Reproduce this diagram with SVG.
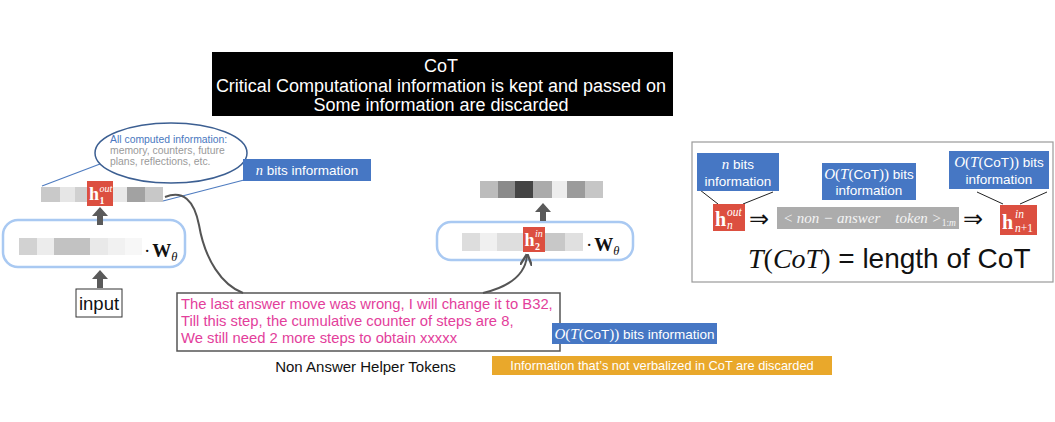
<svg xmlns="http://www.w3.org/2000/svg" width="1055" height="422" viewBox="0 0 1055 422">
<defs>
<style>
.sans{font-family:"Liberation Sans",Arial,sans-serif}
.serif{font-family:"Liberation Serif","Times New Roman",serif}
.blue{fill:#4677c4}
.red{fill:#dc4f40}
.wt{fill:#ffffff}
.hb{font-family:"Liberation Serif",serif;font-weight:bold;fill:#fff}
.hs{font-family:"Liberation Serif",serif;font-style:italic;fill:#fff}
.rbox{fill:none;stroke:#a9c9f2;stroke-width:2.5}
.garrow{fill:#5a5a5a}
.conn{fill:none;stroke:#555;stroke-width:2}
.dbl{font-family:"DejaVu Sans",sans-serif;font-size:24px;fill:#111}
</style>
<marker id="ah" viewBox="0 0 10 10" refX="8" refY="5" markerWidth="6" markerHeight="6" orient="auto">
<path d="M0,0 L10,5 L0,10" fill="none" stroke="#555" stroke-width="2"/>
</marker>
</defs>
<rect width="1055" height="422" fill="#ffffff"/>

<g id="title">
<rect x="212" y="52" width="461" height="64" fill="#000"/>
<text class="sans" x="441" y="71.5" font-size="18" fill="#fff" text-anchor="middle">CoT</text>
<text class="sans" x="441" y="91.5" font-size="18" fill="#fff" text-anchor="middle">Critical Computational information is kept and passed on</text>
<text class="sans" x="441" y="111" font-size="18" fill="#fff" text-anchor="middle">Some information are discarded</text>
</g>

<g id="ellipse-callout">
<line x1="42" y1="186" x2="100" y2="164" stroke="#4f7cc0" stroke-width="1.2"/>
<line x1="163" y1="201" x2="244" y2="180" stroke="#4f7cc0" stroke-width="1.2"/>
<ellipse cx="171" cy="153" rx="76" ry="30" fill="#fff" stroke="#3c5f92" stroke-width="1.5"/>
<text class="sans" x="110" y="143" font-size="10.4" fill="#4a78c0">All computed information:</text>
<text class="sans" x="110" y="154" font-size="10.4" fill="#9a9a9a">memory, counters, future</text>
<text class="sans" x="110" y="165" font-size="10.4" fill="#9a9a9a">plans, reflections,  etc.</text>
</g>

<g id="nbits-label">
<rect x="243" y="159" width="128" height="22" class="blue"/>
<text x="307" y="175" font-size="13.5" fill="#fff" text-anchor="middle"><tspan class="serif" font-style="italic" font-size="14.5">n</tspan><tspan class="sans"> bits information</tspan></text>
</g>

<g id="hidden-out">
<rect x="41" y="187" width="19" height="15" fill="#c9c9c9"/>
<rect x="60" y="187" width="15" height="15" fill="#e6e6e6"/>
<rect x="75" y="187" width="12" height="15" fill="#d0d0d0"/>
<rect x="113" y="187" width="14" height="15" fill="#e8e8e8"/>
<rect x="127" y="187" width="18" height="15" fill="#a2a2a2"/>
<rect x="145" y="187" width="18" height="15" fill="#c8c8c8"/>
<rect x="87" y="181" width="26" height="25" class="red"/>
<text class="hb" x="89" y="200" font-size="18">h</text>
<text class="hs" x="99.5" y="192" font-size="10">out</text>
<text class="hb" x="99.5" y="204" font-size="10" font-weight="normal">1</text>
</g>

<g id="layer1">
<rect x="3" y="220" width="182" height="47" rx="15" class="rbox"/>
<rect x="19" y="238" width="18" height="17" fill="#d2d2d2"/>
<rect x="37" y="238" width="17" height="17" fill="#ececec"/>
<rect x="54" y="238" width="36" height="17" fill="#c2c2c2"/>
<rect x="90" y="238" width="18" height="17" fill="#e9e9e9"/>
<rect x="108" y="238" width="17" height="17" fill="#f1f1f1"/>
<rect x="125" y="238" width="17" height="17" fill="#f7f7f7"/>
<text class="serif" x="144" y="257" font-size="19" fill="#111">·<tspan dx="2" font-weight="bold">W</tspan><tspan font-style="italic" font-size="12.5" dy="4">θ</tspan></text>
</g>

<g id="input">
<rect x="76" y="289" width="46" height="28" fill="#fff" stroke="#333" stroke-width="1"/>
<text class="sans" x="99" y="310" font-size="18.5" fill="#111" text-anchor="middle">input</text>
</g>

<g id="hidden-next">
<rect x="480" y="181" width="18" height="17" fill="#bcbcbc"/>
<rect x="498" y="181" width="17" height="17" fill="#8a8a8a"/>
<rect x="515" y="181" width="18" height="17" fill="#444"/>
<rect x="533" y="181" width="19" height="17" fill="#ababab"/>
<rect x="552" y="181" width="15" height="17" fill="#ededed"/>
<rect x="567" y="181" width="18" height="17" fill="#9b9b9b"/>
<rect x="585" y="181" width="18" height="17" fill="#c6c6c6"/>
</g>

<g id="layer2">
<rect x="437" y="222" width="196" height="38" rx="14" class="rbox"/>
<rect x="462" y="233" width="18" height="18" fill="#dddddd"/>
<rect x="480" y="233" width="17" height="18" fill="#f0f0f0"/>
<rect x="497" y="233" width="26" height="18" fill="#dedede"/>
<rect x="545" y="233" width="20" height="18" fill="#c8c8c8"/>
<rect x="565" y="233" width="18" height="18" fill="#e0e0e0"/>
<rect x="523" y="227" width="22" height="25" class="red"/>
<text class="hb" x="524.5" y="246" font-size="18">h</text>
<text class="hs" x="535" y="237" font-size="10">in</text>
<text class="hb" x="535" y="250" font-size="10" font-weight="normal">2</text>
<text class="serif" x="586" y="251" font-size="19" fill="#111">·<tspan dx="2" font-weight="bold">W</tspan><tspan font-style="italic" font-size="12.5" dy="4">θ</tspan></text>
</g>

<g id="cot-text">
<rect x="177" y="293" width="383" height="58" fill="#fff" stroke="#555" stroke-width="1.5"/>
<text class="sans" x="181" y="309" font-size="14.8" fill="#e33e9b">The last answer move was wrong, I will change it to B32,</text>
<text class="sans" x="181" y="326" font-size="14.8" fill="#e33e9b">Till this step, the cumulative counter of steps are 8,</text>
<text class="sans" x="181" y="343" font-size="14.8" fill="#e33e9b">We still need 2 more steps to obtain xxxxx</text>
</g>

<g id="cot-bits-label">
<rect x="552" y="323" width="165" height="21" class="blue"/>
<text x="634.5" y="338.5" font-size="13.5" fill="#fff" text-anchor="middle"><tspan class="serif" font-style="italic" font-size="15">O</tspan><tspan class="serif" font-size="15">(</tspan><tspan class="serif" font-style="italic" font-size="15">T</tspan><tspan class="serif" font-size="15">(</tspan><tspan class="sans">CoT</tspan><tspan class="serif" font-size="15">))</tspan><tspan class="sans"> bits information</tspan></text>
</g>

<g id="helper-caption">
<text class="sans" x="365.5" y="372" font-size="15" fill="#111" text-anchor="middle">Non Answer Helper Tokens</text>
</g>

<g id="discard-label">
<rect x="492" y="356" width="340" height="19" fill="#e9a82b"/>
<text class="sans" x="662" y="370" font-size="12.8" fill="#fff" text-anchor="middle">Information that’s not verbalized in CoT are discarded</text>
</g>

<g id="right-panel">
<rect x="692" y="142" width="361" height="140" fill="#fff" stroke="#9a9a9a" stroke-width="1.2"/>
<line x1="700" y1="190" x2="718" y2="204" stroke="#222" stroke-width="1"/>
<line x1="773" y1="192" x2="743" y2="204" stroke="#222" stroke-width="1"/>
<line x1="977" y1="192" x2="1003" y2="204" stroke="#222" stroke-width="1"/>
<line x1="1047" y1="192" x2="1020" y2="204" stroke="#222" stroke-width="1"/>
<rect x="697" y="153" width="82" height="38" class="blue"/>
<text x="738" y="169" font-size="13.5" fill="#fff" text-anchor="middle"><tspan class="serif" font-style="italic" font-size="15">n</tspan><tspan class="sans"> bits</tspan></text>
<text class="sans" x="738" y="186" font-size="13.5" fill="#fff" text-anchor="middle">information</text>
<rect x="822" y="163" width="94" height="37" class="blue"/>
<text x="869" y="179" font-size="13.5" fill="#fff" text-anchor="middle"><tspan class="serif" font-style="italic" font-size="15">O</tspan><tspan class="serif" font-size="15">(</tspan><tspan class="serif" font-style="italic" font-size="15">T</tspan><tspan class="serif" font-size="15">(</tspan><tspan class="sans">CoT</tspan><tspan class="serif" font-size="15">))</tspan><tspan class="sans"> bits</tspan></text>
<text class="sans" x="869" y="195" font-size="13.5" fill="#fff" text-anchor="middle">information</text>
<rect x="949" y="151" width="100" height="38" class="blue"/>
<text x="999" y="167" font-size="13.5" fill="#fff" text-anchor="middle"><tspan class="serif" font-style="italic" font-size="15">O</tspan><tspan class="serif" font-size="15">(</tspan><tspan class="serif" font-style="italic" font-size="15">T</tspan><tspan class="serif" font-size="15">(</tspan><tspan class="sans">CoT</tspan><tspan class="serif" font-size="15">))</tspan><tspan class="sans"> bits</tspan></text>
<text class="sans" x="999" y="184" font-size="13.5" fill="#fff" text-anchor="middle">information</text>
<rect x="713" y="204" width="32" height="27" class="red"/>
<text class="hb" x="715" y="226" font-size="20">h</text>
<text class="hs" x="727" y="216" font-size="11.5">out</text>
<text class="hs" x="727" y="229" font-size="11.5">n</text>
<text class="dbl" x="749" y="227">⇒</text>
<rect x="777" y="207" width="182" height="22" fill="#acacac"/>
<text class="serif" x="783" y="223" font-size="15" font-style="italic" fill="#f4f4f4" xml:space="preserve">&lt; non − answer    token &gt;<tspan font-style="normal" font-size="9.5" dy="3">1:</tspan><tspan font-size="9.5">m</tspan></text>
<text class="dbl" x="963" y="227">⇒</text>
<rect x="1000" y="205" width="37" height="30" class="red"/>
<text class="hb" x="1002" y="229" font-size="20">h</text>
<text class="hs" x="1015" y="218" font-size="11.5">in</text>
<text class="hs" x="1015" y="232" font-size="11.5">n<tspan font-style="normal">+1</tspan></text>
<text x="748" y="268" font-size="28" fill="#111"><tspan class="serif" font-style="italic">T</tspan><tspan class="serif">(</tspan><tspan class="serif" font-style="italic">CoT</tspan><tspan class="serif">)</tspan><tspan class="sans"> = length of CoT</tspan></text>
</g>

<g id="connectors">
<polygon class="garrow" points="100,207 108,216 103,216 103,225 97,225 97,216 92,216"/>
<polygon class="garrow" points="100,270 108,279 103,279 103,288 97,288 97,279 92,279"/>
<polygon class="garrow" points="543,203 551,212 546,212 546,221 540,221 540,212 535,212"/>
<path class="conn" d="M165,197 C183,190 194,200 199,225 C205,260 222,285 243,293"/>
<path class="conn" d="M483,293 C508,287 525,276 527,256" marker-end="url(#ah)"/>
</g>
</svg>
